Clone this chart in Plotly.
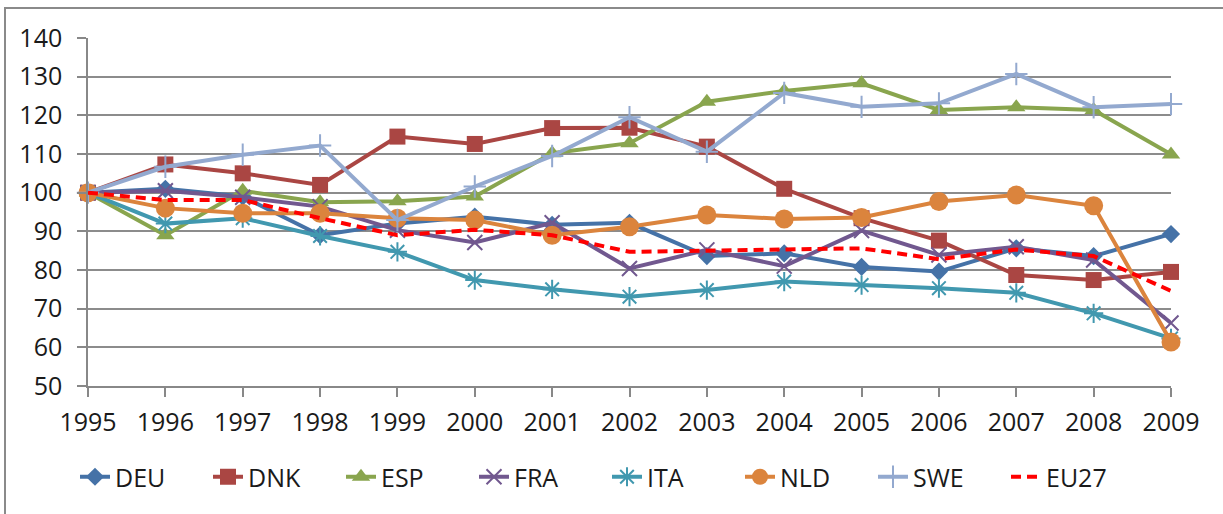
import plotly.graph_objects as go

years = list(range(1995, 2010))
year_labels = [str(y) for y in years]

DEU = [100, 101, 99, 89, 92, 93.8, 91.7, 92.2, 83.6, 84.3, 80.8, 79.6, 85.6, 83.6, 89.3]
DNK = [100, 107.3, 105.0, 102, 114.5, 112.6, 116.7, 116.8, 111.9, 101, 93.4, 87.6, 78.7, 77.4, 79.5]
ESP = [100, 89, 100.5, 97.5, 97.8, 99, 110.2, 112.8, 123.5, 126.3, 128.3, 121.4, 122.1, 121.4, 109.9]
FRA = [100, 100.5, 98.8, 96.4, 90.3, 87.1, 92.2, 80.4, 85.2, 81, 90.2, 83.9, 86, 82.6, 66.3]
ITA = [100, 92, 93.4, 88.8, 84.7, 77.4, 75, 73.1, 74.8, 77, 76.1, 75.3, 74.1, 68.8, 62.3]
NLD = [100, 96, 94.7, 94.7, 93.4, 92.9, 89, 91.2, 94.2, 93.2, 93.6, 97.7, 99.4, 96.6, 61.4]
SWE = [100, 106.7, 109.8, 112.2, 92.9, 101.6, 109.5, 119.5, 110.6, 125.8, 122.2, 123.1, 130.7, 122.1, 122.9]
EU27 = [100, 98.1, 98.1, 93.4, 89, 90.4, 89, 84.7, 85, 85.3, 85.6, 82.8, 85.3, 83.6, 74.6]

y_ticks = [50, 60, 70, 80, 90, 100, 110, 120, 130, 140]

series = [
    ("DEU", DEU, "#4572A7", dict(symbol="diamond", size=14)),
    ("DNK", DNK, "#AA4643", dict(symbol="square", size=16)),
    ("ESP", ESP, "#89A54E", dict(symbol="triangle-up", size=16)),
    ("FRA", FRA, "#71588F", dict(symbol="x-thin-open", size=15, line=dict(width=2, color="#71588F"))),
    ("ITA", ITA, "#4198AF", dict(symbol="asterisk-open", size=16, line=dict(width=2, color="#4198AF"))),
    ("NLD", NLD, "#DB843D", dict(symbol="circle", size=19)),
    ("SWE", SWE, "#93A9CF", dict(symbol="cross-thin-open", size=16, line=dict(width=2, color="#93A9CF"))),
]

fig = go.Figure()
for name, vals, color, mk in series:
    mk = dict(mk)
    mk["color"] = color
    fig.add_trace(go.Scatter(
        x=years, y=vals, name=name, mode="lines+markers",
        line=dict(color=color, width=4),
        marker=mk, cliponaxis=False,
    ))

fig.add_trace(go.Scatter(
    x=years, y=EU27, name="EU27", mode="lines",
    line=dict(color="#FF0000", width=4, dash="10px,6px"),
    cliponaxis=False,
))

font_family = "Open Sans, Noto Sans, DejaVu Sans, sans-serif"
fs = 25

fig.update_layout(
    width=1223, height=514,
    margin=dict(l=88, r=52, t=38, b=128, autoexpand=False),
    paper_bgcolor="white", plot_bgcolor="white",
    font=dict(family=font_family, size=fs, color="#1a1a1a"),
    showlegend=True,
    legend=dict(
        orientation="h", x=-0.012, xanchor="left", y=-0.2615, yanchor="middle",
        entrywidth=88, entrywidthmode="pixels",
        font=dict(family=font_family, size=fs, color="#1a1a1a"),
        bgcolor="rgba(0,0,0,0)", itemsizing="trace",
    ),
    xaxis=dict(
        range=[1995, 2009], tickvals=years, ticktext=year_labels,
        showgrid=False, zeroline=False,
        showline=True, linecolor="#888888", linewidth=1.5,
        ticks="outside", ticklen=9, tickcolor="#888888", tickwidth=1.5,
        ticklabelstandoff=4,
        tickfont=dict(family=font_family, size=fs, color="#1a1a1a"),
    ),
    yaxis=dict(
        range=[50, 140], tickvals=y_ticks, ticktext=[str(v) for v in y_ticks],
        showgrid=True, gridcolor="#8c8c8c", gridwidth=1.5, zeroline=False,
        showline=True, linecolor="#888888", linewidth=1.5,
        ticks="outside", ticklen=9, tickcolor="#888888", tickwidth=1.5,
        ticklabelstandoff=10,
        tickfont=dict(family=font_family, size=fs, color="#1a1a1a"),
    ),
    shapes=[
        dict(type="rect", xref="paper", yref="paper",
             x0=(5 - 88) / 1083, x1=1.3, y0=-0.6, y1=(386 - 8) / 348,
             line=dict(color="#8a8a8a", width=2), fillcolor="rgba(0,0,0,0)", layer="below"),
    ],
)

fig.write_html("out.html", config={"displayModeBar": False},
               post_script="document.body.style.margin='0px';")
